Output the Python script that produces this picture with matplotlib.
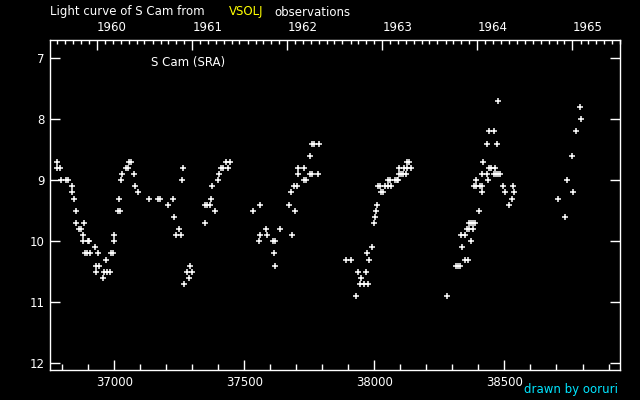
import datetime
import matplotlib
matplotlib.use('Agg')
import matplotlib.pyplot as plt
from matplotlib.ticker import MultipleLocator, FixedLocator

# JD - 2400000 and visual magnitude
jd_1960 = [36781, 36782, 36790, 36796, 36813, 36821, 36839, 36839, 36846, 36854,
           36854, 36885, 36865, 36873, 36881, 36881, 36898, 36905, 36927, 36888,
           36896, 36908, 36938, 36969, 36986, 36994, 36932, 36942, 36931, 36961,
           36973, 36985, 36958, 37000, 37000, 37019, 37015, 37023, 37027, 37031,
           37045, 37053, 37056, 37064, 37077, 37081, 37092, 37134, 37169, 37177,
           37208, 37227, 37231, 37250, 37238, 37258, 37265, 37261, 37292, 37281,
           37300, 37288, 37269]
mag_1960 = [8.7, 8.8, 8.8, 9.0, 9.0, 9.0, 9.1, 9.2, 9.3, 9.5,
            9.7, 9.7, 9.8, 9.8, 9.9, 10.0, 10.0, 10.0, 10.1, 10.2,
            10.2, 10.2, 10.2, 10.3, 10.2, 10.2, 10.4, 10.4, 10.5, 10.5,
            10.5, 10.5, 10.6, 9.9, 10.0, 9.3, 9.5, 9.5, 9.0, 8.9,
            8.8, 8.8, 8.7, 8.7, 8.9, 9.1, 9.2, 9.3, 9.3, 9.3,
            9.4, 9.3, 9.6, 9.8, 9.9, 9.9, 8.8, 9.0, 10.4, 10.5,
            10.5, 10.6, 10.7]

jd_1961 = [37350, 37350, 37357, 37369, 37373, 37388, 37377, 37400, 37404, 37409,
           37417, 37438, 37430, 37446, 37534, 37561, 37561, 37557, 37584, 37588,
           37638, 37609, 37619, 37615, 37619, 37684, 37673, 37696, 37680, 37693,
           37701, 37707, 37707, 37730, 37730, 37738, 37753, 37761, 37784, 37753,
           37761, 37769, 37788]
mag_1961 = [9.7, 9.4, 9.4, 9.4, 9.3, 9.5, 9.1, 9.0, 8.9, 8.8,
            8.8, 8.8, 8.7, 8.7, 9.5, 9.4, 9.9, 10.0, 9.8, 9.9,
            9.8, 10.0, 10.0, 10.2, 10.4, 9.9, 9.4, 9.5, 9.2, 9.1,
            9.1, 8.9, 8.8, 8.8, 9.0, 9.0, 8.9, 8.9, 8.9, 8.6,
            8.4, 8.4, 8.4]

jd_1963 = [37892, 37911, 37930, 37938, 37969, 37949, 37946, 37961, 37976, 37980,
           37973, 37992, 37999, 38003, 38007, 38011, 38024, 38032, 38014, 38021,
           38042, 38053, 38065, 38052, 38060, 38078, 38086, 38092, 38096, 38103,
           38111, 38122, 38096, 38115, 38126, 38142, 38125, 38133]
mag_1963 = [10.3, 10.3, 10.9, 10.5, 10.5, 10.6, 10.7, 10.7, 10.7, 10.3,
            10.2, 10.1, 9.7, 9.6, 9.5, 9.4, 9.2, 9.2, 9.1, 9.1,
            9.1, 9.1, 9.1, 9.0, 9.0, 9.0, 9.0, 9.0, 8.9, 8.9,
            8.9, 8.9, 8.8, 8.8, 8.8, 8.8, 8.7, 8.7]

jd_1964 = [38280, 38315, 38322, 38330, 38349, 38361, 38338, 38372, 38334, 38349,
           38355, 38362, 38380, 38365, 38372, 38380, 38388, 38403, 38415, 38382,
           38389, 38405, 38412, 38392, 38438, 38415, 38434, 38461, 38468, 38476,
           38484, 38418, 38440, 38448, 38465, 38434, 38472, 38442, 38461, 38476,
           38495, 38503, 38534, 38538, 38530, 38518,
           38791, 38795, 38776, 38761, 38741, 38764, 38707, 38734]
mag_1964 = [10.9, 10.4, 10.4, 10.4, 10.3, 10.3, 10.1, 10.0, 9.9, 9.9,
            9.8, 9.8, 9.8, 9.7, 9.7, 9.7, 9.7, 9.5, 9.2, 9.1,
            9.1, 9.1, 9.1, 9.0, 9.0, 8.9, 8.9, 8.9, 8.9, 8.9,
            8.9, 8.7, 8.8, 8.8, 8.8, 8.4, 8.4, 8.2, 8.2, 7.7,
            9.1, 9.2, 9.1, 9.2, 9.3, 9.4,
            7.8, 8.0, 8.2, 8.6, 9.0, 9.2, 9.3, 9.6]

years = [1960, 1961, 1962, 1963, 1964, 1965]
jd_limits = (36754, 38944)
mag_limits = (12.11, 6.70)


def jd_of(date):
    # JD - 2400000 at 0h UT
    return (date - datetime.date(1858, 11, 17)).days + 0.5


def main():
    plt.rcParams['font.family'] = 'DejaVu Sans'
    plt.rcParams['font.size'] = 8.5
    fg = 'white'

    fig = plt.figure(figsize=(6.4, 4.0), dpi=100, facecolor='black')
    ax = fig.add_axes([0.0784, 0.075, 0.8903, 0.825], facecolor='black')

    jd = jd_1960 + jd_1961 + jd_1963 + jd_1964
    mag = mag_1960 + mag_1961 + mag_1963 + mag_1964
    ax.plot(jd, mag, '+', color=fg, markersize=4, markeredgewidth=1.1)

    ax.set_xlim(*jd_limits)
    ax.set_ylim(*mag_limits)

    for sp in ax.spines.values():
        sp.set_color(fg)
        sp.set_linewidth(1)

    ax.xaxis.set_major_locator(MultipleLocator(500))
    ax.xaxis.set_minor_locator(MultipleLocator(100))
    ax.yaxis.set_major_locator(MultipleLocator(1))
    ax.tick_params(axis='x', which='major', direction='in', length=7, width=1,
                   colors=fg, bottom=True, top=False, pad=4)
    ax.tick_params(axis='x', which='minor', direction='in', length=4, width=1,
                   colors=fg, bottom=True, top=False)
    ax.tick_params(axis='y', which='major', direction='in', length=7, width=1,
                   colors=fg, left=True, right=True, pad=4)

    # calendar years along the top
    ax2 = ax.twiny()
    ax2.set_xlim(*jd_limits)
    for sp in ax2.spines.values():
        sp.set_visible(False)
    year_ticks = [jd_of(datetime.date(y, 1, 1)) for y in years]
    month_ticks = [jd_of(datetime.date(y, m, 1)) for y in range(1959, 1966) for m in range(1, 13)]
    ax2.xaxis.set_major_locator(FixedLocator(year_ticks))
    ax2.xaxis.set_minor_locator(FixedLocator(month_ticks))
    ax2.set_xticklabels([str(y) for y in years])
    ax2.tick_params(axis='x', which='major', direction='in', length=7, width=1,
                    colors=fg, pad=4)
    ax2.tick_params(axis='x', which='minor', direction='in', length=3, width=1,
                    colors=fg)
    for lbl in ax2.get_xticklabels():
        lbl.set_horizontalalignment('left')

    ax.text(37140, 7.07, 'S Cam (SRA)', color=fg, va='center', ha='left')

    fig.text(50 / 640, 1 - 12 / 400, 'Light curve of S Cam from', color=fg, va='center')
    fig.text(229 / 640, 1 - 12 / 400, 'VSOLJ', color='#ffff00', va='center')
    fig.text(274 / 640, 1 - 12 / 400, 'observations', color=fg, va='center')
    fig.text(618 / 640, 1 - 390 / 400, 'drawn by ooruri', color='#00e5ff', va='center', ha='right')

    fig.savefig('out.png', dpi=100, facecolor='black')


if __name__ == '__main__':
    main()
